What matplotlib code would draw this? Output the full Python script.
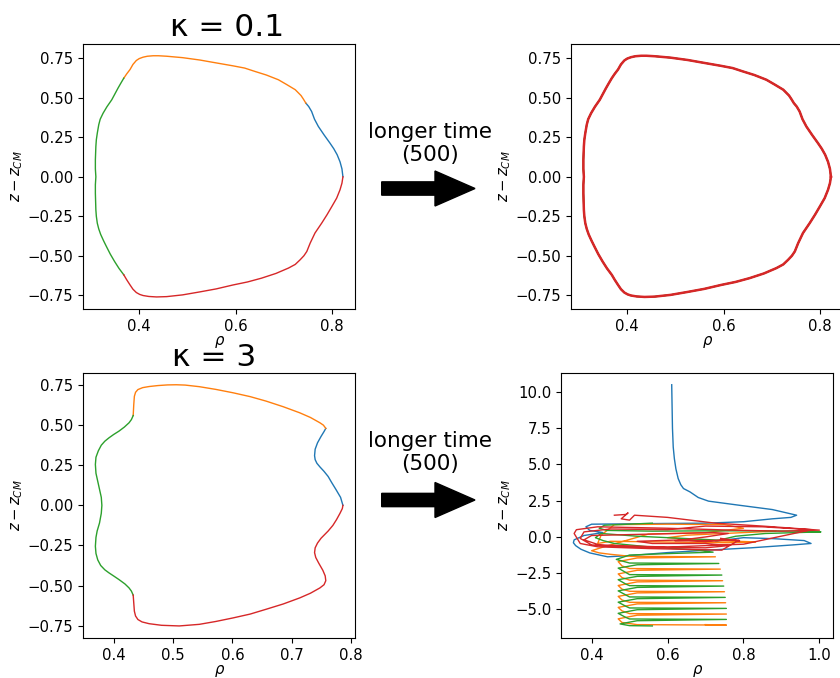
import matplotlib
matplotlib.use('Agg')
import matplotlib.pyplot as plt
from matplotlib.patches import FancyArrow
import numpy as np

matplotlib.rc('xtick', labelsize=10.7)
matplotlib.rc('ytick', labelsize=10.7)

# kappa = 0.1 : droplet outline split into four tracked pieces
k01_blue_rho = [0.823, 0.821, 0.817, 0.811, 0.804, 0.796, 0.784, 0.772, 0.764, 0.758, 0.752, 0.746]
k01_blue_z = [0.000, 0.050, 0.095, 0.140, 0.178, 0.214, 0.265, 0.319, 0.365, 0.414, 0.445, 0.467]
k01_orange_rho = [0.746, 0.741, 0.736, 0.724, 0.706, 0.689, 0.664, 0.640, 0.619, 0.595, 0.550, 0.526, 0.490,
                  0.457, 0.440, 0.429, 0.417, 0.408, 0.400, 0.394, 0.387, 0.381, 0.374, 0.368]
k01_orange_z = [0.467, 0.492, 0.515, 0.552, 0.585, 0.615, 0.645, 0.668, 0.689, 0.703, 0.727, 0.740, 0.755,
                0.764, 0.767, 0.767, 0.764, 0.758, 0.749, 0.737, 0.712, 0.680, 0.652, 0.625]
k01_green_rho = [0.368, 0.362, 0.356, 0.343, 0.333, 0.325, 0.319, 0.316, 0.313, 0.311, 0.310, 0.309, 0.309,
                 0.310, 0.309, 0.309, 0.310, 0.311, 0.313, 0.316, 0.320, 0.326, 0.332, 0.340, 0.349, 0.358, 0.368]
k01_green_z = [0.625, 0.594, 0.562, 0.488, 0.444, 0.403, 0.365, 0.330, 0.277, 0.235, 0.192, 0.108, 0.050,
               0.000, -0.050, -0.104, -0.209, -0.250, -0.294, -0.330, -0.365, -0.405, -0.442, -0.490,
               -0.537, -0.580, -0.621]
k01_red_rho = [0.368, 0.374, 0.381, 0.387, 0.394, 0.401, 0.408, 0.420, 0.436, 0.457, 0.490, 0.526, 0.560,
               0.595, 0.625, 0.654, 0.684, 0.710, 0.724, 0.734, 0.742, 0.748, 0.755, 0.765, 0.779, 0.790,
               0.800, 0.810, 0.817, 0.821, 0.823]
k01_red_z = [-0.621, -0.652, -0.685, -0.712, -0.733, -0.745, -0.752, -0.758, -0.761, -0.759, -0.748, -0.729,
             -0.710, -0.685, -0.666, -0.642, -0.612, -0.578, -0.555, -0.526, -0.500, -0.473, -0.420, -0.356,
             -0.293, -0.240, -0.188, -0.135, -0.082, -0.040, 0.000]

# kappa = 3 : short time outline
k3_blue_rho = [0.787, 0.783, 0.775, 0.768, 0.762, 0.755, 0.748, 0.743, 0.740, 0.739, 0.740, 0.744,
               0.750, 0.755, 0.758]
k3_blue_z = [0.000, 0.050, 0.100, 0.142, 0.180, 0.212, 0.240, 0.262, 0.285, 0.310, 0.350, 0.390,
             0.430, 0.460, 0.480]
k3_orange_rho = [0.758, 0.754, 0.748, 0.732, 0.714, 0.686, 0.657, 0.630, 0.601, 0.572, 0.544, 0.520, 0.505,
                 0.490, 0.474, 0.459, 0.448, 0.440, 0.436, 0.434, 0.433, 0.432]
k3_orange_z = [0.480, 0.500, 0.515, 0.548, 0.577, 0.615, 0.650, 0.678, 0.702, 0.723, 0.740, 0.750, 0.752,
               0.751, 0.747, 0.741, 0.734, 0.722, 0.705, 0.680, 0.630, 0.560]
k3_green_rho = [0.432, 0.429, 0.425, 0.417, 0.408, 0.399, 0.391, 0.384, 0.378, 0.373, 0.369, 0.368, 0.369,
                0.372, 0.375, 0.378, 0.379, 0.378, 0.375, 0.371, 0.369, 0.368, 0.369, 0.372, 0.377, 0.384,
                0.391, 0.400, 0.408, 0.418, 0.425, 0.429, 0.432]
k3_green_z = [0.560, 0.535, 0.515, 0.488, 0.463, 0.442, 0.421, 0.400, 0.375, 0.340, 0.300, 0.255, 0.200,
              0.150, 0.100, 0.050, 0.000, -0.050, -0.110, -0.160, -0.200, -0.255, -0.300, -0.340, -0.375,
              -0.402, -0.421, -0.443, -0.463, -0.490, -0.515, -0.535, -0.560]
k3_red_rho = [0.432, 0.433, 0.434, 0.436, 0.440, 0.447, 0.459, 0.480, 0.510, 0.544, 0.572, 0.601, 0.630, 0.657,
              0.686, 0.714, 0.732, 0.748, 0.755, 0.758, 0.757, 0.753, 0.746, 0.741, 0.739, 0.740, 0.744,
              0.750, 0.762, 0.770, 0.776, 0.782, 0.786, 0.787]
k3_red_z = [-0.560, -0.610, -0.660, -0.690, -0.712, -0.727, -0.738, -0.748, -0.752, -0.742, -0.724, -0.702,
            -0.678, -0.648, -0.615, -0.577, -0.548, -0.515, -0.495, -0.470, -0.440, -0.405, -0.360, -0.325,
            -0.295, -0.265, -0.235, -0.205, -0.160, -0.125, -0.090, -0.050, -0.020, 0.000]

# kappa = 3 : long run, the pieces break up
k3L_blue_rho = [0.611, 0.612, 0.613, 0.615, 0.618, 0.622, 0.628, 0.635, 0.642, 0.659, 0.681, 0.708, 0.788,
                0.876, 0.940, 0.925, 0.876, 0.800, 0.700, 0.593, 0.480, 0.400, 0.385, 0.395, 0.430, 0.380,
                0.354, 0.352, 0.358, 0.372, 0.395, 0.442, 0.504, 0.600, 0.700, 0.820, 0.930, 0.978, 0.960,
                0.880, 0.800, 0.740, 0.726]
k3L_blue_z = [10.5, 9.0, 7.5, 6.2, 5.4, 4.7, 4.03, 3.6, 3.34, 3.11, 2.72, 2.47, 2.19, 1.89, 1.50, 1.35, 1.25,
              1.05, 0.95, 0.93, 0.90, 0.88, 0.70, 0.45, 0.30, 0.10, -0.20, -0.40, -0.60, -0.85, -1.10, -1.37,
              -1.28, -1.08, -0.92, -0.75, -0.55, -0.45, -0.25, -0.12, -0.05, -0.25, -0.34]
k3L_orange_rho = [0.885, 0.800, 0.650, 0.600, 0.700, 0.780, 0.832, 0.760, 0.600, 0.450, 0.416, 0.425, 0.460,
                  0.600, 0.750, 0.800, 0.700, 0.550, 0.430, 0.400, 0.420, 0.450, 0.504, 0.726, 0.520, 0.470,
                  0.480, 0.500, 0.739, 0.520, 0.470, 0.480, 0.500, 0.745, 0.520, 0.470, 0.480, 0.500, 0.750,
                  0.520, 0.470, 0.480, 0.500, 0.753, 0.520, 0.470, 0.480, 0.500, 0.755, 0.520, 0.470, 0.480,
                  0.520, 0.755, 0.700]
k3L_orange_z = [0.40, 0.30, 0.12, -0.05, -0.25, -0.30, -0.34, -0.40, -0.35, -0.30, -0.45, 0.12, 0.85, 0.88,
                0.85, 0.60, 0.30, 0.20, -0.70, -0.95, -1.10, -1.20, -1.34, -1.37, -1.45, -1.70, -2.00, -2.18,
                -2.22, -2.30, -2.55, -2.80, -2.98, -3.02, -3.10, -3.35, -3.60, -3.75, -3.78, -3.86, -4.10,
                -4.35, -4.51, -4.54, -4.62, -4.86, -5.10, -5.29, -5.32, -5.40, -5.65, -5.90, -6.05, -6.08,
                -6.05]
k3L_green_rho = [0.560, 0.434, 0.420, 0.440, 0.560, 0.700, 0.850, 0.947, 1.004, 0.940, 0.858, 0.780, 0.735,
                 0.640, 0.520, 0.425, 0.410, 0.430, 0.460, 0.549, 0.681, 0.720, 0.600, 0.500, 0.465, 0.500,
                 0.735, 0.520, 0.470, 0.490, 0.500, 0.743, 0.520, 0.470, 0.490, 0.500, 0.748, 0.520, 0.470,
                 0.490, 0.500, 0.752, 0.520, 0.470, 0.490, 0.500, 0.755, 0.520, 0.470, 0.490, 0.500, 0.755,
                 0.520, 0.475, 0.500, 0.560]
k3L_green_z = [0.95, 0.81, 0.60, 0.45, 0.40, 0.42, 0.42, 0.40, 0.35, 0.30, 0.24, 0.05, -0.22, -0.10, 0.05,
               0.24, -0.05, -0.25, -0.45, -0.68, -0.91, -1.05, -1.15, -1.25, -1.55, -1.80, -1.83, -1.92,
               -2.15, -2.45, -2.60, -2.63, -2.72, -2.95, -3.25, -3.36, -3.39, -3.48, -3.72, -4.00, -4.14,
               -4.17, -4.26, -4.50, -4.78, -4.90, -4.93, -5.02, -5.27, -5.55, -5.66, -5.69, -5.78, -6.00,
               -6.12, -6.14]
k3L_red_rho = [0.460, 0.490, 0.496, 0.478, 0.500, 0.513, 0.600, 0.726, 0.850, 1.000, 0.900, 0.770, 0.600,
               0.416, 0.360, 0.354, 0.370, 0.416, 0.550, 0.743, 0.788, 0.700, 0.620, 0.700, 0.760, 0.720,
               0.560, 0.400, 0.380, 0.420, 0.600, 0.800, 0.980, 0.850, 0.700, 0.600, 0.450, 0.380, 0.370,
               0.400, 0.500, 0.700, 0.760, 0.700, 0.560, 0.520, 0.640, 0.700, 0.760, 0.790, 0.740]
k3L_red_z = [1.50, 1.55, 1.66, 1.25, 1.16, 1.50, 1.35, 0.95, 0.75, 0.47, 0.40, 0.47, 0.60, 0.70, 0.50, 0.24,
             -0.45, -0.68, -0.80, -0.91, -0.22, -0.25, -0.27, 0.00, 0.24, 0.30, 0.20, 0.10, -0.20, -0.55,
             -0.70, -0.50, 0.50, 0.70, 0.75, 0.50, 0.55, 0.35, -0.10, -0.55, -0.70, -0.75, -0.60, -0.45,
             -0.45, -0.30, -0.20, -0.32, -0.18, -0.28, -0.10]

colors = ['C0', 'C1', 'C2', 'C3']

fig = plt.figure(figsize=(8.4, 6.78), dpi=100)
W, H = 840.0, 678.0
def add_ax(left, top):
	return fig.add_axes([left / W, 1 - (top + 265.3) / H, 272.3 / W, 265.3 / H])

ax_tl = add_ax(83, 43.7)
ax_tr = add_ax(571, 43.7)
ax_bl = add_ax(83, 372.7)
ax_br = add_ax(561, 372.7)

k01 = [(k01_blue_rho, k01_blue_z), (k01_orange_rho, k01_orange_z),
       (k01_green_rho, k01_green_z), (k01_red_rho, k01_red_z)]
k3 = [(k3_blue_rho, k3_blue_z), (k3_orange_rho, k3_orange_z),
      (k3_green_rho, k3_green_z), (k3_red_rho, k3_red_z)]
k3L = [(k3L_blue_rho, k3L_blue_z), (k3L_orange_rho, k3L_orange_z),
       (k3L_green_rho, k3L_green_z), (k3L_red_rho, k3L_red_z)]

for (r, z), c in zip(k01, colors):
	ax_tl.plot(r, z, color=c, lw=1.0)
# long run for kappa=0.1: every piece has gone all the way round, red ends on top
loop_r = np.concatenate([k01_blue_rho, k01_orange_rho, k01_green_rho, k01_red_rho])
loop_z = np.concatenate([k01_blue_z, k01_orange_z, k01_green_z, k01_red_z])
for c in colors[:3]:
	ax_tr.plot(loop_r, loop_z, color=c, lw=1.0)
ax_tr.plot(loop_r, loop_z, color='C3', lw=1.8)
for (r, z), c in zip(k3, colors):
	ax_bl.plot(r, z, color=c, lw=1.0)
for (r, z), c in zip(k3L, colors):
	ax_br.plot(r, z, color=c, lw=1.0)

yt = [-0.75, -0.5, -0.25, 0, 0.25, 0.5, 0.75]
for ax in [ax_tl, ax_tr, ax_bl]:
	ax.set_yticks(yt)
ax_tl.set_xticks([0.4, 0.6, 0.8])
ax_tr.set_xticks([0.4, 0.6, 0.8])
ax_bl.set_xticks([0.4, 0.5, 0.6, 0.7, 0.8])
ax_br.set_xticks([0.4, 0.6, 0.8, 1.0])
ax_br.set_yticks([-5, -2.5, 0, 2.5, 5, 7.5, 10])

for ax in [ax_tl, ax_tr, ax_bl, ax_br]:
	ax.set_xlabel(r'$\rho$', fontsize=10.7, labelpad=0)
	ax.set_ylabel(r'$z-z_{CM}$', fontsize=10.7, labelpad=1.5)

fig.text(227.5 / W, 1 - 36 / H, u'\u03ba = 0.1', fontsize=22.5, ha='center', va='baseline')
fig.text(214 / W, 1 - 366 / H, u'\u03ba = 3', fontsize=22.5, ha='center', va='baseline')

for yc, ya in [(143.5, 188.5), (452.5, 500)]:
	fig.text(430 / W, 1 - yc / H, 'longer time\n(500)', fontsize=15.5, ha='center', va='center',
	         multialignment='center')
	fig.patches.append(FancyArrow(381.7 / W, 1 - ya / H, 53.3 / W, 0, width=13.3 / H,
	                              head_width=35 / H, head_length=40 / W, length_includes_head=False,
	                              color='black', transform=fig.transFigure, figure=fig))

fig.savefig('out.png', dpi=100)
